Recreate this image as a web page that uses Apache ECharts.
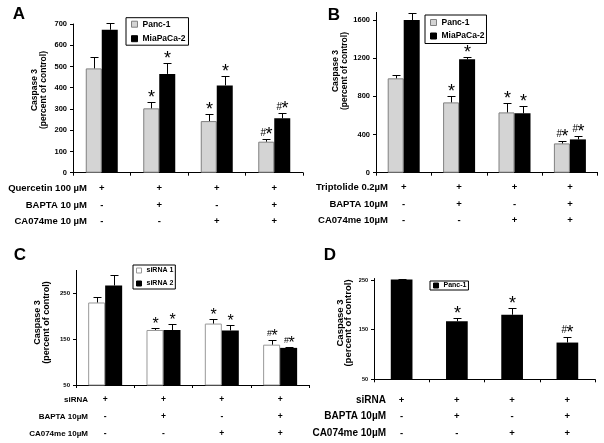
<!DOCTYPE html>
<html><head><meta charset="utf-8">
<script src="https://cdn.jsdelivr.net/npm/echarts@6/dist/echarts.min.js"></script>
<style>html,body{margin:0;padding:0;background:#fff}#c{width:604px;height:443px}</style>
</head><body><div id="c"></div>
<script>
// ---- data ----
const categories = ['+\n-\n-', '+\n+\n-', '+\n-\n+', '+\n+\n+'];
const rowsA = ['Quercetin 100 µM', 'BAPTA 10 µM', 'CA074me 10 µM'];
const rowsB = ['Triptolide 0.2µM', 'BAPTA 10µM', 'CA074me 10µM'];
const rowsC = ['siRNA', 'BAPTA 10µM', 'CA074me 10µM'];
const rowsD = ['siRNA', 'BAPTA 10µM', 'CA074me 10µM'];
const yTitle = 'Caspase 3\n(percent of control)';

const a_panc = [491, 303, 243, 146];
const a_pancErr = [55, 28, 32, 14];
const a_mia = [673, 465, 411, 256];
const a_miaErr = [30, 52, 46, 24];
const a_pancSig = ['', '*', '*', '#*'];
const a_miaSig = ['', '*', '*', '#*'];

const b_panc = [989, 737, 632, 307];
const b_pancErr = [31, 70, 102, 21];
const b_mia = [1600, 1188, 622, 349];
const b_miaErr = [70, 21, 77, 35];
const b_pancSig = ['', '*', '*', '#*'];
const b_miaSig = ['', '*', '*', '#*'];

const c_si1 = [230, 170, 184, 138];
const c_si1Err = [13, 5, 10, 10];
const c_si2 = [267, 170, 169, 131];
const c_si2Err = [22, 12, 11, 2];
const c_si1Sig = ['', '*', '*', '#*'];
const c_si2Sig = ['', '*', '*', '#*'];

const d_panc = [251, 167, 180, 124];
const d_pancErr = [2, 7, 14, 12];
const d_pancSig = ['', '*', '*', '#*'];

const yTicksA = {min: 0, max: 700, interval: 100};
const yTicksB = {min: 0, max: 1680, interval: 400};
const yTicksC = {min: 50, max: 300, interval: 100};
const yTicksD = {min: 50, max: 253, interval: 100};

// ---- styling / layout ----
const FONT = 'Liberation Sans, Arial, Helvetica, sans-serif';
const GRAY = '#d4d4d4';

const chart = echarts.init(document.getElementById('c'), null, {renderer: 'canvas'});

function errRender(vals, errs, sigs, offset, starSize, hashSize, dy) {
  return function (params, api) {
    const i = params.dataIndex;
    const base = api.coord([i, vals[i]]);
    const top = api.coord([i, vals[i] + errs[i]]);
    const x = Math.round(base[0] + offset) + 0.5;
    const yt = Math.round(top[1]) + 0.5;
    const children = [
      {type: 'line', shape: {x1: x, y1: base[1], x2: x, y2: yt}, style: {stroke: '#000', lineWidth: 1}},
      {type: 'line', shape: {x1: x - 4, y1: yt, x2: x + 4, y2: yt}, style: {stroke: '#000', lineWidth: 1}}
    ];
    const s = sigs[i];
    if (s === '*') {
      children.push({type: 'text', x: x, y: yt + dy,
        style: {text: '*', align: 'center', verticalAlign: 'middle', fontSize: starSize, fontFamily: FONT, fill: '#000'}});
    } else if (s === '#*') {
      children.push({type: 'text', x: x - 0.5, y: yt + dy - 2.5,
        style: {text: '#', align: 'right', verticalAlign: 'middle', fontSize: hashSize, fontFamily: FONT, fill: '#000'}});
      children.push({type: 'text', x: x - 1, y: yt + dy,
        style: {text: '*', align: 'left', verticalAlign: 'middle', fontSize: starSize, fontFamily: FONT, fill: '#000'}});
    }
    return {type: 'group', children: children};
  };
}

const grids = [], xAxes = [], yAxes = [], series = [], legends = [], graphics = [];

function addPanel(cfg) {
  const gi = grids.length;
  grids.push(cfg.grid);
  xAxes.push({
    type: 'category', gridIndex: gi, data: categories,
    axisLine: {lineStyle: {color: '#000', width: 1}},
    axisTick: {show: true, inside: false, length: 3, lineStyle: {color: '#000'}},
    axisLabel: {interval: 0, margin: cfg.xMargin, lineHeight: cfg.xLine, fontSize: cfg.xFont,
      fontWeight: 'bold', color: '#000', fontFamily: FONT}
  });
  yAxes.push({
    type: 'value', gridIndex: gi, min: cfg.yt.min, max: cfg.yt.max, interval: cfg.yt.interval,
    splitLine: {show: false},
    axisLine: {show: true, lineStyle: {color: '#000', width: 1}},
    axisTick: {show: true, inside: false, length: 3, lineStyle: {color: '#000'}},
    axisLabel: {showMaxLabel: (cfg.yt.max - cfg.yt.min) % cfg.yt.interval === 0,
      formatter: function (v) { return String(v); },
      margin: 6, fontSize: cfg.yFont, fontWeight: 'bold', color: '#000', fontFamily: FONT}
  });
  const n = cfg.bars.length;
  cfg.bars.forEach(function (b) {
    series.push({
      type: 'bar', name: b.name, xAxisIndex: gi, yAxisIndex: gi,
      data: b.vals, barWidth: cfg.barWidth, barGap: '0%',
      itemStyle: {color: b.color, borderColor: b.border, borderWidth: b.border ? 1 : 0},
      z: 2
    });
  });
  cfg.bars.forEach(function (b, k) {
    const offset = n === 1 ? 0 : (k === 0 ? -cfg.barWidth / 2 : cfg.barWidth / 2);
    series.push({
      type: 'custom', xAxisIndex: gi, yAxisIndex: gi, z: 3,
      data: b.vals.map(function (v, i) { return [i, v + b.errs[i]]; }),
      encode: {x: 0, y: 1},
      renderItem: errRender(b.vals, b.errs, b.sigs, offset, cfg.starSize, cfg.hashSize, cfg.starDy),
      silent: true
    });
  });
  legends.push(Object.assign({
    orient: 'vertical', borderColor: '#000', borderWidth: 1, backgroundColor: '#fff',
    itemWidth: cfg.legIcon, itemHeight: cfg.legIcon, selectedMode: false,
    textStyle: {fontSize: cfg.legFont, fontWeight: 'bold', color: '#000', fontFamily: FONT},
    data: cfg.bars.map(function (b) {
      return {name: b.name, icon: 'rect', itemStyle: {color: b.color, borderColor: b.border || b.color, borderWidth: 1}};
    })
  }, cfg.legend));
  graphics.push({type: 'text', x: cfg.letter[0], y: cfg.letter[1],
    style: {text: cfg.letterText, align: 'center', verticalAlign: 'middle', fontSize: 17, fontWeight: 'bold', fontFamily: FONT, fill: '#000'}});
  graphics.push({type: 'text', x: cfg.title[0], y: cfg.title[1], rotation: Math.PI / 2,
    style: {text: yTitle, align: 'center', verticalAlign: 'middle', fontSize: cfg.titleFont, lineHeight: cfg.titleLine,
      fontWeight: 'bold', fontFamily: FONT, fill: '#000'}});
  cfg.rows.forEach(function (r, i) {
    graphics.push({type: 'text', x: cfg.rowX, y: cfg.rowY[i],
      style: {text: r, align: 'right', verticalAlign: 'middle', fontSize: cfg.rowFont, fontWeight: 'bold', fontFamily: FONT, fill: '#000'}});
  });
}

addPanel({
  letterText: 'A', letter: [19, 14], title: [39.5, 90], titleFont: 8.5, titleLine: 9,
  grid: {left: 73, top: 24, width: 230, height: 148.7},
  yt: yTicksA, yFont: 7.5, xFont: 9.5, xLine: 16.7, xMargin: 7.2,
  barWidth: 16, starSize: 18, hashSize: 10, starDy: -4,
  rows: rowsA, rowX: 87, rowY: [188.3, 205.7, 221.7], rowFont: 9.5,
  legIcon: 6, legFont: 8.5,
  legend: {left: 126, top: 17.7, padding: [2, 3, 2, 5], itemGap: 5.5},
  bars: [
    {name: 'Panc-1', vals: a_panc, errs: a_pancErr, sigs: a_pancSig, color: GRAY, border: '#808080'},
    {name: 'MiaPaCa-2', vals: a_mia, errs: a_miaErr, sigs: a_miaSig, color: '#000', border: null}
  ]
});
addPanel({
  letterText: 'B', letter: [334, 15], title: [340, 71], titleFont: 8.5, titleLine: 8.5,
  grid: {left: 376, top: 12.4, width: 221.6, height: 160.3},
  yt: yTicksB, yFont: 7.5, xFont: 9.5, xLine: 16.7, xMargin: 6.2,
  barWidth: 16, starSize: 18, hashSize: 10, starDy: -4.5,
  rows: rowsB, rowX: 388, rowY: [187.3, 204.3, 220.7], rowFont: 9.5,
  legIcon: 6, legFont: 8.5,
  legend: {left: 425, top: 15, padding: [3, 2, 3, 5], itemGap: 4.5},
  bars: [
    {name: 'Panc-1', vals: b_panc, errs: b_pancErr, sigs: b_pancSig, color: GRAY, border: '#808080'},
    {name: 'MiaPaCa-2', vals: b_mia, errs: b_miaErr, sigs: b_miaSig, color: '#000', border: null}
  ]
});
addPanel({
  letterText: 'C', letter: [20, 255], title: [42, 322.5], titleFont: 9, titleLine: 9,
  grid: {left: 76, top: 270.4, width: 233.3, height: 114.6},
  yt: yTicksC, yFont: 6, xFont: 8.5, xLine: 16.7, xMargin: 6.6,
  barWidth: 17, starSize: 16, hashSize: 9, starDy: -4,
  rows: rowsC, rowX: 88, rowY: [400, 417, 433.3], rowFont: 8,
  legIcon: 5, legFont: 7,
  legend: {left: 133, top: 265, padding: [2, 2, 2, 3], itemGap: 6},
  bars: [
    {name: 'siRNA 1', vals: c_si1, errs: c_si1Err, sigs: c_si1Sig, color: '#fff', border: '#999'},
    {name: 'siRNA 2', vals: c_si2, errs: c_si2Err, sigs: c_si2Sig, color: '#000', border: null}
  ]
});
addPanel({
  letterText: 'D', letter: [330, 255], title: [344, 323], titleFont: 9.5, titleLine: 8,
  grid: {left: 374, top: 278.5, width: 221, height: 100.8},
  yt: yTicksD, yFont: 5.5, xFont: 9.5, xLine: 16.5, xMargin: 12.4,
  barWidth: 21.7, starSize: 18, hashSize: 10, starDy: -4.5,
  rows: rowsD, rowX: 386, rowY: [400, 416.7, 433], rowFont: 10,
  legIcon: 5, legFont: 7,
  legend: {left: 430, top: 281, padding: [1, 2, 1, 3], itemGap: 4},
  bars: [
    {name: 'Panc-1', vals: d_panc, errs: d_pancErr, sigs: d_pancSig, color: '#000', border: null}
  ]
});

chart.setOption({
  animation: false,
  backgroundColor: '#fff',
  textStyle: {fontFamily: FONT},
  grid: grids, xAxis: xAxes, yAxis: yAxes, series: series, legend: legends,
  graphic: graphics
});
</script></body></html>
